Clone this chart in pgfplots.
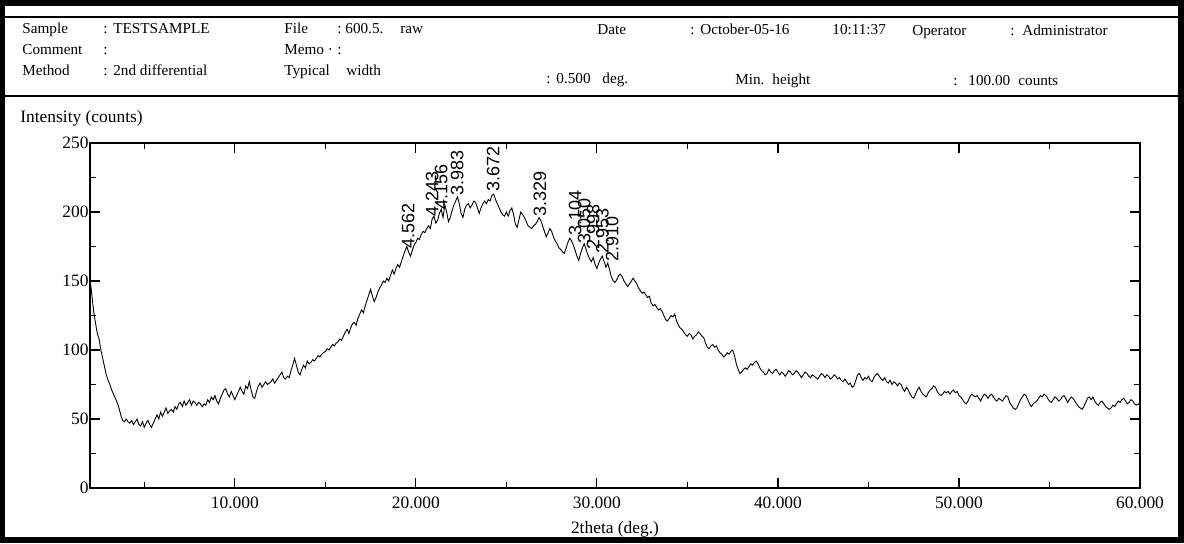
\documentclass[border=0pt]{standalone}
\usepackage{fontspec}
\setmainfont{Liberation Serif}
\newfontfamily\lsans{Liberation Sans}
\usepackage{pgfplots}
\pgfplotsset{compat=1.18}
\newcommand\hdr{\fontsize{7.6}{8}\selectfont}
\newcommand\tkf{\fontsize{8.7}{10}\selectfont}
\newcommand\pkf{\lsans\fontsize{9}{9}\selectfont}
\begin{document}
\begin{tikzpicture}
\begin{scope}[x=0.5pt,y=-0.5pt,shift={(-45pt,244pt)}]
\fill[black] (0,0) rectangle (1184,543);
\fill[white] (5,6) rectangle (1178,537);
\draw[line width=0.6pt] (5,17) -- (1178,17);
\draw[line width=0.6pt] (5,96) -- (1178,96);
\begin{scope}[every node/.style={anchor=base west, inner sep=0pt, font=\hdr}]
\node at (22,33) {Sample};
\node at (103,33) {:};
\node at (113,33) {TESTSAMPLE};
\node at (284,33) {File};
\node at (337,33) {:};
\node at (345,33) {600.5.};
\node at (400,33) {raw};
\node at (597,34) {Date};
\node at (690,34) {:};
\node at (700,34) {October-05-16};
\node at (832,34) {10:11:37};
\node at (912,35) {Operator};
\node at (1010,35) {:};
\node at (1022,35) {Administrator};
\node at (22,54) {Comment};
\node at (103,54) {:};
\node at (284,54) {Memo \textperiodcentered};
\node at (337,54) {:};
\node at (22,75) {Method};
\node at (103,75) {:};
\node at (113,75) {2nd differential};
\node at (284,75) {Typical};
\node at (346,75) {width};
\node at (546,83) {:};
\node at (556,83) {0.500};
\node at (602,83) {deg.};
\node at (735,84) {Min.};
\node at (772,84) {height};
\node at (953,85) {:};
\node at (968,85) {100.00};
\node at (1018,85) {counts};
\end{scope}
\node[anchor=base west, inner sep=0pt, font=\tkf] at (20,122) {Intensity (counts)};
\node[anchor=base, inner sep=0pt, font=\tkf] at (615,533) {2theta (deg.)};
\end{scope}
\begin{axis}[at={(0,0)}, anchor=south west, scale only axis,
  width=525pt, height=172.5pt,
  xmin=2, xmax=60, ymin=0, ymax=250,
  xtick={10,20,30,40,50,60},
  xticklabels={10.000,20.000,30.000,40.000,50.000,60.000},
  ytick={0,50,100,150,200,250},
  yticklabels={0,50,100,150,200,250},
  minor xtick={5,15,25,35,45,55},
  minor ytick={25,75,125,175,225},
  tick align=inside, xtick pos=both, ytick pos=both,
  major tick length=5pt, minor tick length=3pt,
  tick style={black, line width=0.6pt},
  axis line style={line width=0.6pt},
  ticklabel style={font=\tkf},
  yticklabel style={inner xsep=0.5pt},
  xticklabel style={yshift=-1pt},
  /pgf/number format/assume math mode=true,
  clip=false]
\addplot[black, line width=0.45pt] coordinates {
(2.0,152) (2.1,140) (2.2,128) (2.3,120) (2.4,112) (2.5,108) (2.6,100) (2.7,94) (2.8,88) (2.9,82)
(3.0,78) (3.1,75) (3.2,71) (3.3,68) (3.4,65) (3.5,62) (3.6,58) (3.7,53) (3.8,49) (3.9,48)
(4.0,50) (4.1,48) (4.2,47) (4.3,49) (4.4,46) (4.5,48) (4.6,50) (4.7,46) (4.8,45) (4.9,48)
(5.0,44) (5.1,47) (5.2,49) (5.3,46) (5.4,44) (5.5,47) (5.6,50) (5.7,53) (5.8,50) (5.9,55)
(6.0,52) (6.1,55) (6.2,58) (6.3,54) (6.4,56) (6.5,57) (6.6,55) (6.7,59) (6.8,57) (6.9,61)
(7.0,62) (7.1,59) (7.2,63) (7.3,60) (7.4,62) (7.5,64) (7.6,60) (7.7,63) (7.8,62) (7.9,60)
(8.0,62) (8.1,61) (8.2,59) (8.3,61) (8.4,60) (8.5,64) (8.6,62) (8.7,66) (8.8,64) (8.9,67)
(9.0,63) (9.1,61) (9.2,65) (9.3,68) (9.4,71) (9.5,72) (9.6,68) (9.7,66) (9.8,70) (9.9,67)
(10.0,64) (10.1,67) (10.2,70) (10.3,73) (10.4,70) (10.5,68) (10.6,74) (10.7,72) (10.8,77) (10.9,71)
(11.0,66) (11.1,65) (11.2,70) (11.3,74) (11.4,76) (11.5,73) (11.6,75) (11.7,77) (11.8,75) (11.9,76)
(12.0,77) (12.1,79) (12.2,76) (12.3,78) (12.4,80) (12.5,82) (12.6,84) (12.7,80) (12.8,79) (12.9,81)
(13.0,80) (13.1,85) (13.2,89) (13.3,94) (13.4,89) (13.5,84) (13.6,82) (13.7,86) (13.8,89) (13.9,87)
(14.0,92) (14.1,90) (14.2,91) (14.3,93) (14.4,92) (14.5,94) (14.6,96) (14.7,95) (14.8,97) (14.9,98)
(15.0,99) (15.1,101) (15.2,100) (15.3,102) (15.4,104) (15.5,103) (15.6,105) (15.7,106) (15.8,108) (15.9,107)
(16.0,110) (16.1,113) (16.2,115) (16.3,112) (16.4,116) (16.5,119) (16.6,120) (16.7,118) (16.8,123) (16.9,126)
(17.0,129) (17.1,127) (17.2,132) (17.3,136) (17.4,140) (17.5,144) (17.6,139) (17.7,135) (17.8,138) (17.9,142)
(18.0,145) (18.1,147) (18.2,150) (18.3,149) (18.4,152) (18.5,150) (18.6,154) (18.7,158) (18.8,155) (18.9,159)
(19.0,162) (19.1,160) (19.2,164) (19.3,168) (19.4,172) (19.5,175) (19.6,171) (19.7,168) (19.8,172) (19.9,176)
(20.0,178) (20.1,181) (20.2,180) (20.3,184) (20.4,186) (20.5,185) (20.6,188) (20.7,190) (20.8,188) (20.9,195)
(21.0,197) (21.1,192) (21.2,194) (21.3,199) (21.4,202) (21.5,196) (21.6,205) (21.7,200) (21.8,193) (21.9,196)
(22.0,201) (22.1,205) (22.2,208) (22.3,211) (22.4,206) (22.5,199) (22.6,196) (22.7,202) (22.8,205) (22.9,206)
(23.0,203) (23.1,205) (23.2,208) (23.3,207) (23.4,203) (23.5,199) (23.6,203) (23.7,206) (23.8,208) (23.9,206)
(24.0,209) (24.1,208) (24.2,212) (24.3,213) (24.4,209) (24.5,206) (24.6,203) (24.7,200) (24.8,198) (24.9,197)
(25.0,200) (25.1,197) (25.2,201) (25.3,203) (25.4,198) (25.5,191) (25.6,189) (25.7,195) (25.8,200) (25.9,198)
(26.0,196) (26.1,193) (26.2,190) (26.3,189) (26.4,188) (26.5,190) (26.6,191) (26.7,193) (26.8,196) (26.9,194)
(27.0,190) (27.1,186) (27.2,182) (27.3,185) (27.4,188) (27.5,186) (27.6,182) (27.7,179) (27.8,177) (27.9,174)
(28.0,173) (28.1,171) (28.2,170) (28.3,174) (28.4,178) (28.5,181) (28.6,179) (28.7,176) (28.8,172) (28.9,168)
(29.0,165) (29.1,170) (29.2,174) (29.3,177) (29.4,173) (29.5,169) (29.6,166) (29.7,164) (29.8,167) (29.9,162)
(30.0,159) (30.1,163) (30.2,166) (30.3,168) (30.4,164) (30.5,160) (30.6,163) (30.7,158) (30.8,153) (30.9,150)
(31.0,149) (31.1,151) (31.2,154) (31.3,155) (31.4,153) (31.5,150) (31.6,148) (31.7,146) (31.8,148) (31.9,150)
(32.0,152) (32.1,150) (32.2,148) (32.3,145) (32.4,143) (32.5,141) (32.6,142) (32.7,140) (32.8,138) (32.9,139)
(33.0,134) (33.1,132) (33.2,133) (33.3,131) (33.4,129) (33.5,130) (33.6,128) (33.7,125) (33.8,122) (33.9,121)
(34.0,123) (34.1,125) (34.2,124) (34.3,126) (34.4,121) (34.5,118) (34.6,116) (34.7,115) (34.8,113) (34.9,111)
(35.0,110) (35.1,112) (35.2,111) (35.3,108) (35.4,110) (35.5,111) (35.6,113) (35.7,112) (35.8,110) (35.9,109)
(36.0,105) (36.1,102) (36.2,101) (36.3,103) (36.4,104) (36.5,102) (36.6,103) (36.7,100) (36.8,98) (36.9,97)
(37.0,95) (37.1,96) (37.2,98) (37.3,97) (37.4,99) (37.5,100) (37.6,96) (37.7,90) (37.8,86) (37.9,83)
(38.0,84) (38.1,86) (38.2,87) (38.3,86) (38.4,88) (38.5,90) (38.6,89) (38.7,91) (38.8,92) (38.9,90)
(39.0,87) (39.1,85) (39.2,84) (39.3,82) (39.4,83) (39.5,86) (39.6,84) (39.7,83) (39.8,85) (39.9,86)
(40.0,84) (40.1,82) (40.2,84) (40.3,83) (40.4,81) (40.5,83) (40.6,85) (40.7,84) (40.8,82) (40.9,83)
(41.0,85) (41.1,84) (41.2,82) (41.3,80) (41.4,82) (41.5,84) (41.6,83) (41.7,81) (41.8,80) (41.9,82)
(42.0,81) (42.1,80) (42.2,79) (42.3,81) (42.4,83) (42.5,82) (42.6,80) (42.7,82) (42.8,81) (42.9,79)
(43.0,80) (43.1,82) (43.2,81) (43.3,79) (43.4,80) (43.5,78) (43.6,77) (43.7,79) (43.8,77) (43.9,75)
(44.0,76) (44.1,73) (44.2,74) (44.3,78) (44.4,82) (44.5,83) (44.6,80) (44.7,78) (44.8,80) (44.9,79)
(45.0,81) (45.1,78) (45.2,77) (45.3,80) (45.4,82) (45.5,83) (45.6,81) (45.7,79) (45.8,78) (45.9,80)
(46.0,77) (46.1,76) (46.2,78) (46.3,75) (46.4,77) (46.5,76) (46.6,74) (46.7,76) (46.8,75) (46.9,72)
(47.0,70) (47.1,73) (47.2,71) (47.3,68) (47.4,66) (47.5,65) (47.6,68) (47.7,71) (47.8,73) (47.9,70)
(48.0,68) (48.1,67) (48.2,66) (48.3,69) (48.4,71) (48.5,72) (48.6,74) (48.7,73) (48.8,70) (48.9,68)
(49.0,67) (49.1,68) (49.2,70) (49.3,69) (49.4,70) (49.5,68) (49.6,70) (49.7,71) (49.8,69) (49.9,70)
(50.0,67) (50.1,66) (50.2,64) (50.3,62) (50.4,61) (50.5,63) (50.6,66) (50.7,68) (50.8,67) (50.9,66)
(51.0,67) (51.1,65) (51.2,63) (51.3,66) (51.4,68) (51.5,67) (51.6,65) (51.7,67) (51.8,68) (51.9,66)
(52.0,64) (52.1,63) (52.2,65) (52.3,64) (52.4,63) (52.5,65) (52.6,67) (52.7,66) (52.8,62) (52.9,60)
(53.0,58) (53.1,57) (53.2,58) (53.3,61) (53.4,64) (53.5,66) (53.6,68) (53.7,67) (53.8,64) (53.9,61)
(54.0,59) (54.1,61) (54.2,62) (54.3,63) (54.4,65) (54.5,67) (54.6,66) (54.7,68) (54.8,67) (54.9,65)
(55.0,63) (55.1,62) (55.2,64) (55.3,66) (55.4,65) (55.5,63) (55.6,64) (55.7,66) (55.8,67) (55.9,65)
(56.0,62) (56.1,64) (56.2,66) (56.3,65) (56.4,63) (56.5,61) (56.6,59) (56.7,58) (56.8,57) (56.9,59)
(57.0,62) (57.1,65) (57.2,66) (57.3,64) (57.4,66) (57.5,63) (57.6,61) (57.7,60) (57.8,62) (57.9,63)
(58.0,61) (58.1,59) (58.2,58) (58.3,57) (58.4,58) (58.5,60) (58.6,59) (58.7,61) (58.8,63) (58.9,62)
(59.0,64) (59.1,65) (59.2,63) (59.3,61) (59.4,62) (59.5,64) (59.6,63) (59.7,61) (59.8,60) (59.9,61)
(60.0,60)
};
\begin{scope}[every node/.style={rotate=90, anchor=west, inner sep=0.5pt, font=\pkf}]
\node at (axis cs:19.57,172.5) {4.562};
\node at (axis cs:20.90,196) {4.243};
\node at (axis cs:21.40,201) {4.156};
\node at (axis cs:22.28,211) {3.983};
\node at (axis cs:24.27,214) {3.672};
\node at (axis cs:26.86,195.6) {3.329};
\node at (axis cs:28.80,182) {3.104};
\node at (axis cs:29.30,176) {3.050};
\node at (axis cs:29.80,172) {2.998};
\node at (axis cs:30.30,169) {2.953};
\node at (axis cs:30.84,163) {2.910};
\end{scope}
\end{axis}
\end{tikzpicture}
\end{document}
